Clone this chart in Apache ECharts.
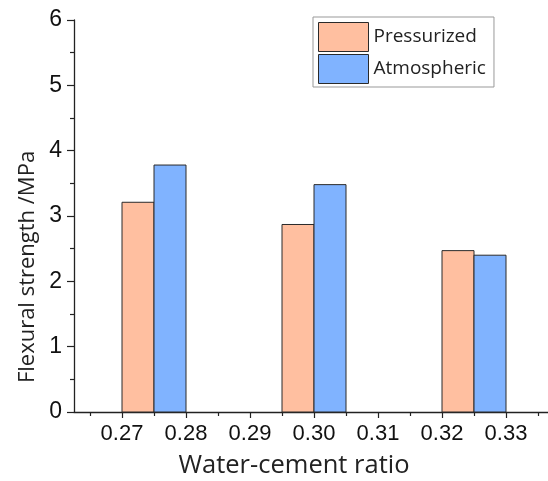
<!DOCTYPE html>
<html>
<head>
<meta charset="utf-8">
<script src="https://cdn.jsdelivr.net/npm/echarts@6/dist/echarts.min.js"></script>
<style>html,body{margin:0;padding:0;background:#fff}#c{width:548px;height:481px}</style>
</head>
<body>
<div id="c"></div>
<script>
// Data
const groupCenters = [0.275, 0.300, 0.325];
const pressurized = [3.21, 2.87, 2.47];
const atmospheric = [3.78, 3.48, 2.40];
const xTickValues = [0.27, 0.28, 0.29, 0.30, 0.31, 0.32, 0.33];
const xMinorTickValues = [0.265, 0.275, 0.285, 0.295, 0.305, 0.315, 0.325, 0.335];
const seriesNames = ['Pressurized', 'Atmospheric'];

const BAR_W = 0.005;
const colors = ['#FFBFA0', '#80B3FF'];

function makeRender(side) {
  return function (params, api) {
    const x = api.value(0), y = api.value(1);
    const x0 = side < 0 ? x - BAR_W : x;
    const x1 = side < 0 ? x : x + BAR_W;
    const p0 = api.coord([x0, y]);
    const p1 = api.coord([x1, 0]);
    return {
      type: 'rect',
      shape: {x: p0[0], y: p0[1], width: p1[0] - p0[0], height: p1[1] - p0[1]},
      style: {fill: colors[side < 0 ? 0 : 1], stroke: '#2a2a2a', lineWidth: 1}
    };
  };
}

const chart = echarts.init(document.getElementById('c'), null, {renderer: 'canvas'});
const X_MIN = 0.2625, X_MAX = 0.33656;
chart.setOption({
  animation: false,
  backgroundColor: '#fff',
  grid: {left: 74, right: 0, top: 20, bottom: 69, containLabel: false, outerBoundsMode: 'none'},
  legend: {
    orient: 'vertical', left: 313, top: 17,
    padding: [5, 8, 3, 5], itemWidth: 50, itemHeight: 29, itemGap: 2,
    borderColor: '#999', borderWidth: 1,
    icon: 'rect',
    itemStyle: {borderColor: '#2a2a2a', borderWidth: 1},
    textStyle: {fontFamily: 'Open Sans', fontSize: 19, color: '#222'},
    data: seriesNames
  },
  xAxis: [{
    type: 'value', min: X_MIN, max: X_MAX,
    name: 'Water-cement ratio', nameLocation: 'middle', nameGap: 41,
    nameTextStyle: {fontFamily: 'Open Sans', fontSize: 25.5, color: '#222', padding: [0, 34, 0, 0]},
    axisLine: {show: true, onZero: false, lineStyle: {color: '#222', width: 1.3}},
    axisTick: {show: true, inside: false, length: 6, customValues: xTickValues, lineStyle: {color: '#222', width: 1.2}},
    axisLabel: {show: true, margin: 11, customValues: xTickValues, fontFamily: 'Liberation Sans', fontSize: 22, color: '#111',
      formatter: v => Number(v).toFixed(2)},
    splitLine: {show: false}
  }, {
    type: 'value', min: X_MIN, max: X_MAX, position: 'bottom',
    axisLine: {show: false, onZero: false},
    axisTick: {show: true, inside: false, length: 4, customValues: xMinorTickValues, lineStyle: {color: '#222', width: 1.2}},
    axisLabel: {show: false},
    splitLine: {show: false}
  }],
  yAxis: {
    type: 'value', min: 0, max: 6, interval: 1,
    name: 'Flexural strength /MPa', nameLocation: 'middle', nameGap: 33, nameRotate: 90,
    nameTextStyle: {fontFamily: 'Open Sans', fontSize: 22, color: '#222', padding: [0, 102, 0, 0]},
    axisLine: {show: true, onZero: false, lineStyle: {color: '#222', width: 1.3}},
    axisTick: {show: true, inside: false, length: 7, lineStyle: {color: '#222', width: 1.2}},
    minorTick: {show: true, splitNumber: 2, length: 4, lineStyle: {color: '#222', width: 1.2}},
    axisLabel: {margin: 12, fontFamily: 'Liberation Sans', fontSize: 23, color: '#111'},
    splitLine: {show: false}
  },
  series: [{
    name: seriesNames[0], type: 'custom', xAxisIndex: 0,
    itemStyle: {color: colors[0], borderColor: '#2a2a2a', borderWidth: 1},
    encode: {x: 0, y: 1},
    renderItem: makeRender(-1),
    data: groupCenters.map((c, i) => [c, pressurized[i]])
  }, {
    name: seriesNames[1], type: 'custom', xAxisIndex: 0,
    itemStyle: {color: colors[1], borderColor: '#2a2a2a', borderWidth: 1},
    encode: {x: 0, y: 1},
    renderItem: makeRender(1),
    data: groupCenters.map((c, i) => [c, atmospheric[i]])
  }]
});
</script>
</body>
</html>
